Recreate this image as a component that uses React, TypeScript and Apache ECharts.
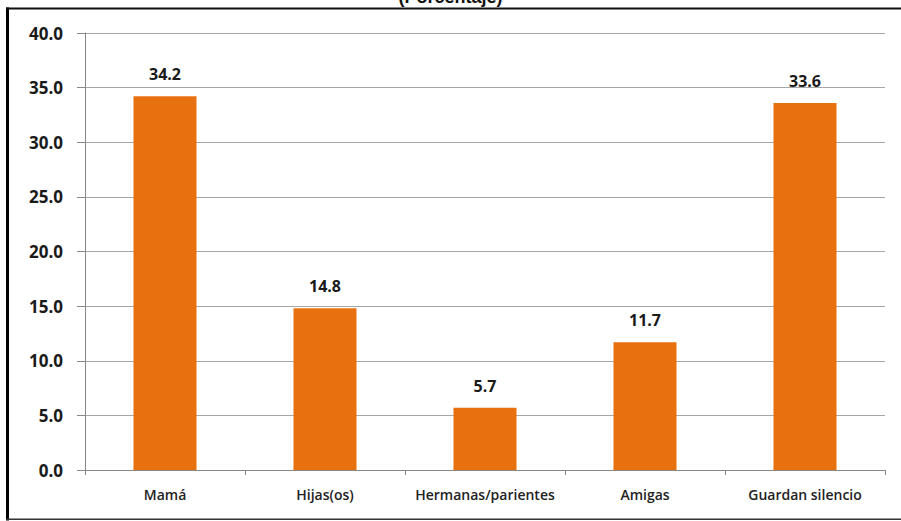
import React, { useEffect, useRef } from "react";
import * as echarts from "echarts";

const categories = ["Mamá", "Hijas(os)", "Hermanas/parientes", "Amigas", "Guardan silencio"];
const values = [34.2, 14.8, 5.7, 11.7, 33.6];
const yTicks = { min: 0, max: 40, interval: 5 };
const titleText = "(Porcentaje)";

const numFont = "'Open Sans', 'Liberation Sans', Arial, sans-serif";

export default function App() {
  const ref = useRef<HTMLDivElement>(null);

  useEffect(() => {
    if (!ref.current) return;
    const chart = echarts.init(ref.current, null, { renderer: "svg" });
    chart.setOption({
      animation: false,
      backgroundColor: "#ffffff",
      grid: { left: 85, right: 16, top: 33, bottom: 51 },
      graphic: [
        {
          type: "text",
          left: "center",
          top: -12,
          style: {
            text: titleText,
            font: "bold 18px 'Liberation Sans', Arial, sans-serif",
            fill: "#111",
          },
        },
        { type: "rect", shape: { x: 6, y: 7.5, width: 3, height: 513 }, style: { fill: "#000" } },
        { type: "rect", shape: { x: 6, y: 7.5, width: 895, height: 2 }, style: { fill: "#111" } },
        { type: "rect", shape: { x: 6, y: 518.5, width: 895, height: 1.5 }, style: { fill: "#333" } },
      ],
      xAxis: {
        type: "category",
        data: categories,
        axisLine: { show: true, lineStyle: { color: "#888", width: 1 } },
        axisTick: { show: true, length: 5, lineStyle: { color: "#888" } },
        axisLabel: {
          interval: 0,
          color: "#222",
          fontSize: 14,
          fontWeight: 600,
          fontFamily: "'Open Sans', sans-serif",
          margin: 17,
        },
      },
      yAxis: {
        type: "value",
        min: yTicks.min,
        max: yTicks.max,
        interval: yTicks.interval,
        axisLine: { show: true, lineStyle: { color: "#888", width: 1 } },
        axisTick: { show: true, length: 8, lineStyle: { color: "#888" } },
        splitLine: { lineStyle: { color: "#a6a6a6", width: 1 } },
        axisLabel: {
          formatter: (v: number) => v.toFixed(1),
          color: "#1a1a1a",
          fontSize: 17,
          fontWeight: "bold",
          fontFamily: numFont,
          margin: 22,
        },
      },
      series: [
        {
          type: "bar",
          data: values,
          barWidth: 63,
          itemStyle: { color: "#E8710F" },
          label: {
            show: true,
            position: "top",
            distance: 14,
            formatter: (p: any) => Number(p.value).toFixed(1),
            color: "#1a1a1a",
            fontSize: 16,
            fontWeight: "bold",
            fontFamily: numFont,
          },
        },
      ],
    });
    return () => chart.dispose();
  }, []);

  return <div ref={ref} style={{ width: 901, height: 521, position: "absolute", left: 0, top: 0 }} />;
}
